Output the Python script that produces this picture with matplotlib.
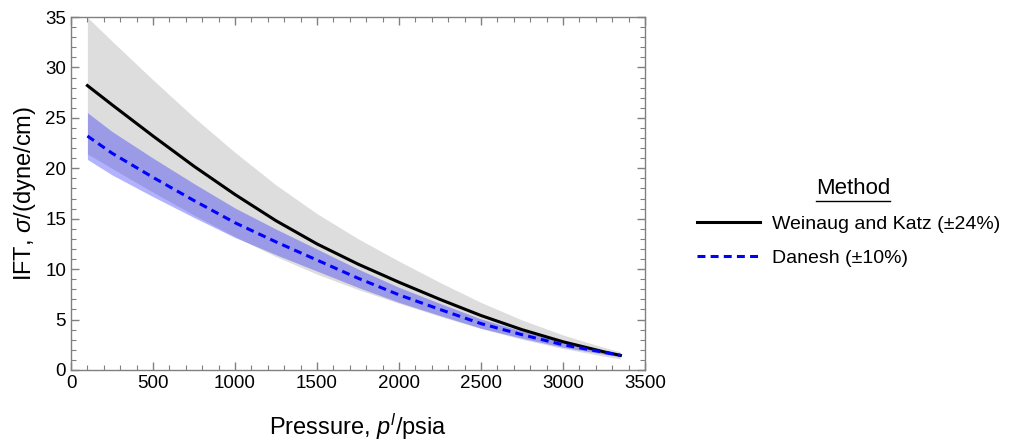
import numpy as np
import matplotlib.pyplot as plt
from matplotlib.lines import Line2D

plt.rcParams['font.family'] = ['Liberation Sans', 'DejaVu Sans']
plt.rcParams['mathtext.fontset'] = 'custom'
plt.rcParams['mathtext.rm'] = 'Liberation Sans'
plt.rcParams['mathtext.it'] = 'Liberation Sans:italic'

# pressure (psia) and IFT (dyne/cm)
pressure = [100, 250, 500, 750, 1000, 1250, 1500, 1750, 2000, 2250, 2500, 2750, 3000, 3250, 3350]
weinaug_katz = [28.2, 26.3, 23.2, 20.2, 17.4, 14.8, 12.5, 10.5, 8.7, 7.0, 5.4, 4.0, 2.8, 1.8, 1.45]
danesh = [23.2, 21.5, 19.1, 16.8, 14.6, 12.7, 10.9, 9.1, 7.45, 6.0, 4.6, 3.5, 2.5, 1.75, 1.45]
wk_err = 0.24
dn_err = 0.10

p = np.array(pressure)
wk = np.array(weinaug_katz)
dn = np.array(danesh)

fig = plt.figure(figsize=(10.13, 4.44), dpi=100)
ax = fig.add_axes([0.0701, 0.1667, 0.5666, 0.795])

ax.fill_between(p, wk * (1 - wk_err), wk * (1 + wk_err), color='#dddddd', lw=0)
ax.fill_between(p, dn * (1 - dn_err), dn * (1 + dn_err), color='blue', alpha=0.3, lw=0)
l1, = ax.plot(p, wk, color='black', lw=2.2, label='Weinaug and Katz (±24%)')
l2, = ax.plot(p, dn, color='blue', lw=2.2, dashes=(2.6, 1.7), label='Danesh (±10%)')

ax.set_xlim(0, 3500)
ax.set_ylim(0, 35)
ax.set_xticks(np.arange(0, 3501, 500))
ax.set_yticks(np.arange(0, 36, 5))
ax.set_xticks(np.arange(0, 3501, 100), minor=True)
ax.set_yticks(np.arange(0, 36, 1), minor=True)
ax.tick_params(which='both', direction='in', top=True, right=True, color='#808080', labelsize=13.5)
ax.tick_params(which='major', length=6, width=1)
ax.tick_params(which='minor', length=3.5, width=0.8)
for s in ax.spines.values():
    s.set_color('#808080')
    s.set_linewidth(1)

ax.set_xlabel(r'Pressure, $p^l$/psia', fontsize=17, labelpad=14)
ax.set_ylabel(r'IFT, $\sigma$/(dyne/cm)', fontsize=17, labelpad=5)

leg = fig.legend(handles=[l1, l2], loc='upper left', bbox_to_anchor=(0.680, 0.533),
                 frameon=False, fontsize=14, handlelength=3.25, handletextpad=0.62,
                 labelspacing=0.85, borderpad=0.4, borderaxespad=0)

t = fig.text(0.842, 0.575, 'Method', fontsize=16, ha='center', va='center')
fig.canvas.draw()
bb = t.get_window_extent().transformed(fig.transFigure.inverted())
fig.add_artist(Line2D([bb.x0, bb.x1], [bb.y0 - 0.003, bb.y0 - 0.003], color='black', lw=1))

plt.savefig('out.png', dpi=100)
